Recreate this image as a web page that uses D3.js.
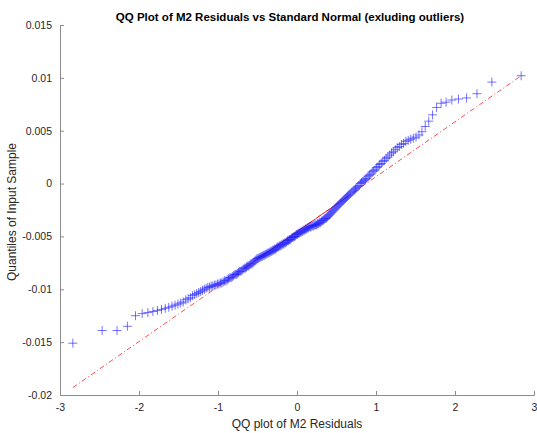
<!DOCTYPE html>
<html>
<head>
<meta charset="utf-8">
<script src="https://cdnjs.cloudflare.com/ajax/libs/d3/7.8.5/d3.min.js"></script>
<style>
  body { margin: 0; background: #fff; }
  svg { font-family: "Liberation Sans", Arial, Helvetica, sans-serif; }
  .axis path, .axis line { stroke: #8c8c8c; }
  .axis text { fill: #262626; font-size: 10.5px; }
</style>
</head>
<body>
<div id="chart"></div>
<script>
// sorted residuals (sample quantiles)
var residuals = [
  -0.0151, -0.0139, -0.0139, -0.0135, -0.0125, -0.0123, -0.0122, -0.0121, -0.0120, -0.0119,
  -0.0118, -0.0117, -0.0116, -0.0115, -0.0114, -0.0113, -0.0112, -0.0110, -0.0109, -0.0108,
  -0.0106, -0.0105, -0.0104, -0.0103, -0.0102, -0.0101, -0.0100, -0.0099, -0.0098, -0.0098,
  -0.0097, -0.0097, -0.0096, -0.0096, -0.0095, -0.0095, -0.0094, -0.0094, -0.0093, -0.0092,
  -0.0092, -0.0091, -0.0090, -0.0089, -0.0089, -0.0088, -0.0087, -0.0086, -0.0086, -0.0085,
  -0.0084, -0.0083, -0.0083, -0.0082, -0.0081, -0.0080, -0.0080, -0.0079, -0.0078, -0.0078,
  -0.0077, -0.0076, -0.0076, -0.0075, -0.0074, -0.0073, -0.0072, -0.0071, -0.0071, -0.0070,
  -0.0070, -0.0069, -0.0069, -0.0068, -0.0068, -0.0067, -0.0067, -0.0066, -0.0066, -0.0065,
  -0.0065, -0.0064, -0.0064, -0.0063, -0.0063, -0.0062, -0.0062, -0.0061, -0.0060, -0.0060,
  -0.0059, -0.0059, -0.0058, -0.0058, -0.0057, -0.0057, -0.0056, -0.0056, -0.0055, -0.0054,
  -0.0054, -0.0053, -0.0053, -0.0052, -0.0051, -0.0051, -0.0050, -0.0050, -0.0049, -0.0048,
  -0.0048, -0.0047, -0.0047, -0.0046, -0.0046, -0.0045, -0.0045, -0.0044, -0.0044, -0.0043,
  -0.0043, -0.0042, -0.0042, -0.0041, -0.0041, -0.0041, -0.0040, -0.0040, -0.0040, -0.0039,
  -0.0039, -0.0039, -0.0038, -0.0038, -0.0037, -0.0037, -0.0036, -0.0035, -0.0035, -0.0034,
  -0.0033, -0.0033, -0.0032, -0.0031, -0.0030, -0.0029, -0.0028, -0.0027, -0.0026, -0.0025,
  -0.0024, -0.0023, -0.0022, -0.0021, -0.0020, -0.0019, -0.0018, -0.0017, -0.0016, -0.0015,
  -0.0014, -0.0013, -0.0012, -0.0011, -0.0010, -0.0009, -0.0008, -0.0007, -0.0006, -0.0005,
  -0.0004, -0.0003, -0.0002, 0.0000, 0.0001, 0.0002, 0.0003, 0.0004, 0.0005, 0.0007,
  0.0008, 0.0009, 0.0011, 0.0012, 0.0013, 0.0015, 0.0016, 0.0018, 0.0019, 0.0021,
  0.0022, 0.0024, 0.0025, 0.0027, 0.0029, 0.0030, 0.0032, 0.0034, 0.0035, 0.0037,
  0.0038, 0.0040, 0.0041, 0.0042, 0.0043, 0.0044, 0.0046, 0.0049, 0.0054, 0.0059,
  0.0065, 0.0072, 0.0076, 0.0077, 0.0079, 0.0080, 0.0081, 0.0085, 0.0096, 0.0102
];

// reference line (through the quartiles, dash-dot beyond them)
var refX = [-2.838, -0.674, 0.674, 2.838];
var refY = [-0.0193, -0.00805, -0.00105, 0.0102];

var xTicks = [-3, -2, -1, 0, 1, 2, 3];
var yTicks = [-0.02, -0.015, -0.01, -0.005, 0, 0.005, 0.01, 0.015];

var title = "QQ Plot of M2 Residuals vs Standard Normal (exluding outliers)";
var xTitle = "QQ plot of M2 Residuals";
var yTitle = "Quantiles of Input Sample";

// inverse standard normal cdf (Acklam), used for the theoretical quantiles
function norminv(p) {
  var a = [-39.69683028665376, 220.9460984245205, -275.9285104469687, 138.3577518672690, -30.66479806614716, 2.506628277459239],
      b = [-54.47609879822406, 161.5858368580409, -155.6989798598866, 66.80131188771972, -13.28068155288572],
      c = [-0.007784894002430293, -0.3223964580411365, -2.400758277161838, -2.549732539343734, 4.374664141464968, 2.938163982698783],
      d = [0.007784695709041462, 0.3224671290700398, 2.445134137142996, 3.754408661907416];
  var q, r;
  if (p < 0.02425) {
    q = Math.sqrt(-2 * Math.log(p));
    return (((((c[0]*q+c[1])*q+c[2])*q+c[3])*q+c[4])*q+c[5]) / ((((d[0]*q+d[1])*q+d[2])*q+d[3])*q+1);
  } else if (p > 1 - 0.02425) {
    q = Math.sqrt(-2 * Math.log(1 - p));
    return -(((((c[0]*q+c[1])*q+c[2])*q+c[3])*q+c[4])*q+c[5]) / ((((d[0]*q+d[1])*q+d[2])*q+d[3])*q+1);
  }
  q = p - 0.5; r = q * q;
  return (((((a[0]*r+a[1])*r+a[2])*r+a[3])*r+a[4])*r+a[5])*q / (((((b[0]*r+b[1])*r+b[2])*r+b[3])*r+b[4])*r+1);
}

var n = residuals.length;
var points = residuals.map(function(v, i) {
  return { x: norminv((i + 0.5) / n), y: v };
});

var margin = {top: 25, right: 3, bottom: 38, left: 60},
    width = 537 - margin.left - margin.right,
    height = 433 - margin.top - margin.bottom;

var x = d3.scaleLinear().domain([-3, 3]).range([0, width]);
var y = d3.scaleLinear().domain([-0.02, 0.015]).range([height, 0]);

var svg = d3.select("#chart").append("svg")
    .attr("width", width + margin.left + margin.right)
    .attr("height", height + margin.top + margin.bottom)
  .append("g")
    .attr("transform", "translate(" + margin.left + "," + margin.top + ")");

// plain hyphen minus like matlab
function fmt(d) { return String(+d.toFixed(3)); }

// axes, ticks pointing inward like matlab
svg.append("g")
    .attr("class", "axis axis--x")
    .attr("transform", "translate(0," + height + ")")
    .call(d3.axisBottom(x).tickValues(xTicks).tickSize(-4).tickPadding(9).tickSizeOuter(-4).tickFormat(fmt));

svg.append("g")
    .attr("class", "axis axis--y")
    .call(d3.axisLeft(y).tickValues(yTicks).tickSize(-4).tickPadding(8).tickSizeOuter(-4).tickFormat(fmt));

svg.selectAll(".axis text").style("font-family", "Liberation Sans, Arial, sans-serif");

// reference line
var refLine = d3.line()
    .x(function(d) { return x(d[0]); })
    .y(function(d) { return y(d[1]); });

var refPts = refX.map(function(v, i) { return [v, refY[i]]; });

svg.append("path")
    .attr("d", refLine([refPts[0], refPts[3]]))
    .attr("fill", "none")
    .attr("stroke", "#ff0000")
    .attr("stroke-width", 0.7)
    .attr("stroke-dasharray", "5,2.5,1,2.5");

svg.append("path")
    .attr("d", refLine([refPts[1], refPts[2]]))
    .attr("fill", "none")
    .attr("stroke", "#ff0000")
    .attr("stroke-width", 0.8);

// + markers
var s = 4.5;
svg.selectAll(".pt")
    .data(points)
  .enter().append("path")
    .attr("class", "pt")
    .attr("d", function(d) {
      var cx = x(d.x), cy = y(d.y);
      return "M" + (cx - s) + "," + cy + "H" + (cx + s) + "M" + cx + "," + (cy - s) + "V" + (cy + s);
    })
    .attr("fill", "none")
    .attr("stroke", "#1a1aff")
    .attr("stroke-width", 0.6);

// labels
svg.append("text")
    .attr("x", width / 2 - 7)
    .attr("y", -4)
    .attr("text-anchor", "middle")
    .style("font-size", "11.5px")
    .style("font-weight", "bold")
    .attr("fill", "#000")
    .text(title);

svg.append("text")
    .attr("x", width / 2)
    .attr("y", height + 33)
    .attr("text-anchor", "middle")
    .style("font-size", "12px")
    .attr("fill", "#262626")
    .text(xTitle);

svg.append("text")
    .attr("transform", "translate(" + (-44) + "," + (height / 2 + 2) + ")rotate(-90)")
    .attr("text-anchor", "middle")
    .style("font-size", "12px")
    .attr("fill", "#262626")
    .text(yTitle);
</script>
</body>
</html>
